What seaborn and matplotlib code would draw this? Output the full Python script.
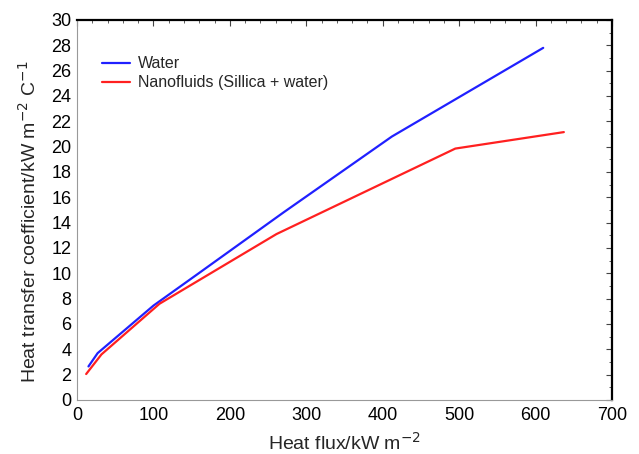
import matplotlib
matplotlib.use("Agg")
import matplotlib.pyplot as plt
import matplotlib.ticker as ticker
import pandas as pd
import seaborn as sns

water_flux = [15, 27, 100, 158, 270, 412, 610]
water_htc = [2.65, 3.7, 7.45, 9.95, 14.8, 20.8, 27.8]
nano_flux = [12, 32, 108, 261, 495, 637]
nano_htc = [2.05, 3.6, 7.6, 13.1, 19.85, 21.15]
labels = ["Water", "Nanofluids (Sillica + water)"]

data = pd.concat([
    pd.DataFrame({"flux": water_flux, "htc": water_htc, "fluid": labels[0]}),
    pd.DataFrame({"flux": nano_flux, "htc": nano_htc, "fluid": labels[1]}),
])

sns.set_theme(style="white")
plt.rcParams["font.family"] = ["Liberation Sans", "DejaVu Sans"]

fig = plt.figure(figsize=(6.39, 4.54), dpi=100)
ax = fig.add_axes([77 / 639, 54 / 454, 535 / 639, 380 / 454])

sns.lineplot(data=data, x="flux", y="htc", hue="fluid", sort=False,
             palette=["#2020ff", "#ff2020"], linewidth=1.6, ax=ax)

ax.set_xlim(0, 700)
ax.set_ylim(0, 30)
ax.xaxis.set_major_locator(ticker.MultipleLocator(100))
ax.xaxis.set_minor_locator(ticker.MultipleLocator(20))
ax.yaxis.set_major_locator(ticker.MultipleLocator(2))
ax.yaxis.set_minor_locator(ticker.MultipleLocator(1))
ax.tick_params(which="both", direction="in", top=True, right=True,
               colors="#444444", labelcolor="black", labelsize=13)
ax.tick_params(which="major", length=4, width=0.8)
ax.tick_params(which="minor", length=2, width=0.6)
ax.tick_params(axis="x", pad=5)
ax.tick_params(axis="y", pad=4)

for side in ["left", "bottom"]:
    ax.spines[side].set_color("#999999")
    ax.spines[side].set_linewidth(0.8)
for side in ["top", "right"]:
    ax.spines[side].set_color("black")
    ax.spines[side].set_linewidth(1.6)

ax.set_xlabel("Heat flux/kW m$^{-2}$", fontsize=14, labelpad=6)
ax.set_ylabel("Heat transfer coefficient/kW m$^{-2}$ C$^{-1}$", fontsize=14)
ax.yaxis.set_label_coords(-0.07, 0.47)

leg = ax.legend(loc="upper left", bbox_to_anchor=(0.047, 0.905), frameon=False,
                fontsize=11.5, handlelength=1.75, handletextpad=0.5,
                borderpad=0, borderaxespad=0, labelspacing=0.25, title=None)

fig.savefig("out.png", dpi=100)
